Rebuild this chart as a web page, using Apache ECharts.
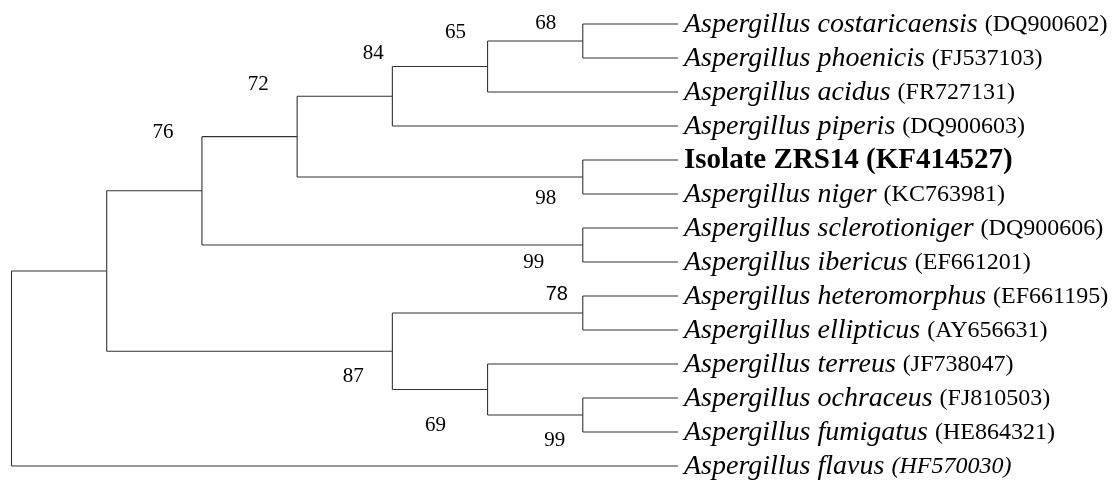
<!DOCTYPE html>
<html><head><meta charset="utf-8">
<script src="https://cdn.jsdelivr.net/npm/echarts@6/dist/echarts.min.js"></script>
<style>html,body{margin:0;padding:0;background:#fff}#c{width:1112px;height:480px}</style>
</head><body><div id="c"></div>
<script>
// ---- data ----
const speciesNames = ['Aspergillus costaricaensis','Aspergillus phoenicis','Aspergillus acidus','Aspergillus piperis','Isolate ZRS14','Aspergillus niger','Aspergillus sclerotioniger','Aspergillus ibericus','Aspergillus heteromorphus','Aspergillus ellipticus','Aspergillus terreus','Aspergillus ochraceus','Aspergillus fumigatus','Aspergillus flavus'];
const accessions = ['DQ900602','FJ537103','FR727131','DQ900603','KF414527','KC763981','DQ900606','EF661201','EF661195','AY656631','JF738047','FJ810503','HE864321','HF570030'];
// topology (leaf indices), internal nodes listed in post-order for bootstrap values
const treeShape = [[[[[[[0,1],2],3],[4,5]],[6,7]],[[8,9],[10,[11,12]]]],13];
const bootstrapValues = [68,65,84,98,72,99,76,78,99,69,87,null,null];

// ---- styling ----
const boldLeaves = [4];
const italicAccessionLeaves = [13];
const bootstrapOffsets = [[-37,-18],[-32,-34],[-19,-43],[-37,21],[-39,-52],[-49,17],[-39,-58],[-26,-19],[-28,25],[-52,36],[-39,25]];
const sansBootstrap = [7];

// ---- layout from topology ----
function height(n){ return Array.isArray(n) ? 1 + Math.max(...n.map(height)) : 0; }
const H = height(treeShape);
const segs = [], nodes = [];
function layout(n){
  if (!Array.isArray(n)) return {x: H, y: n};
  const kids = n.map(layout);
  const x = H - height(n);
  const y = (kids[0].y + kids[kids.length-1].y) / 2;
  segs.push([x, kids[0].y, x, kids[kids.length-1].y]);
  kids.forEach(k => segs.push([x, k.y, k.x, k.y]));
  nodes.push([x, y]);
  return {x, y};
}
layout(treeShape);
const bootData = nodes.map((p, i) => [p[0], p[1], bootstrapValues[i], i]).filter(d => d[2] != null);
const leafData = speciesNames.map((s, i) => [H, i, i]);

const chart = echarts.init(document.getElementById('c'));
chart.setOption({
  animation: false,
  grid: {left: 11.5, top: 24, width: 666.5, height: 442},
  xAxis: {type: 'value', min: 0, max: H, show: false},
  yAxis: {type: 'value', min: 0, max: speciesNames.length - 1, inverse: true, show: false},
  series: [
    {
      type: 'custom', data: segs, silent: true,
      renderItem: (params, api) => {
        const a = api.coord([api.value(0), api.value(1)]);
        const b = api.coord([api.value(2), api.value(3)]);
        return {type: 'line', shape: {x1: a[0], y1: a[1], x2: b[0], y2: b[1]},
          style: {stroke: '#333', lineWidth: 1.1}};
      }
    },
    {
      type: 'custom', data: bootData, silent: true,
      renderItem: (params, api) => {
        const p = api.coord([api.value(0), api.value(1)]);
        const idx = api.value(3);
        const off = bootstrapOffsets[idx];
        const sans = sansBootstrap.indexOf(idx) >= 0;
        return {type: 'text', x: p[0] + off[0], y: p[1] + off[1],
          style: {text: String(api.value(2)), fill: '#000', align: 'center', verticalAlign: 'middle',
            font: sans ? '20px "Liberation Sans"' : '21px "Liberation Serif"'}};
      }
    },
    {
      type: 'custom', data: leafData, silent: true,
      renderItem: (params, api) => {
        const p = api.coord([api.value(0), api.value(1)]);
        const i = api.value(2);
        let text;
        if (boldLeaves.indexOf(i) >= 0) text = '{b|' + speciesNames[i] + ' (' + accessions[i] + ')}';
        else if (italicAccessionLeaves.indexOf(i) >= 0) text = '{i|' + speciesNames[i] + ' }{ia|(' + accessions[i] + ')}';
        else text = '{i|' + speciesNames[i] + ' }{r|(' + accessions[i] + ')}';
        return {type: 'text', x: p[0] + 6, y: p[1] + 1,
          style: {text: text, align: 'left', verticalAlign: 'middle',
            rich: {
              i: {fontFamily: 'Liberation Serif', fontStyle: 'italic', fontSize: 28, fill: '#000'},
              ia: {fontFamily: 'Liberation Serif', fontStyle: 'italic', fontSize: 24, fill: '#000'},
              r: {fontFamily: 'Liberation Serif', fontSize: 24, fill: '#000'},
              b: {fontFamily: 'Liberation Serif', fontWeight: 'bold', fontSize: 29, fill: '#000'}
            }}};
      }
    }
  ]
});
</script></body></html>
